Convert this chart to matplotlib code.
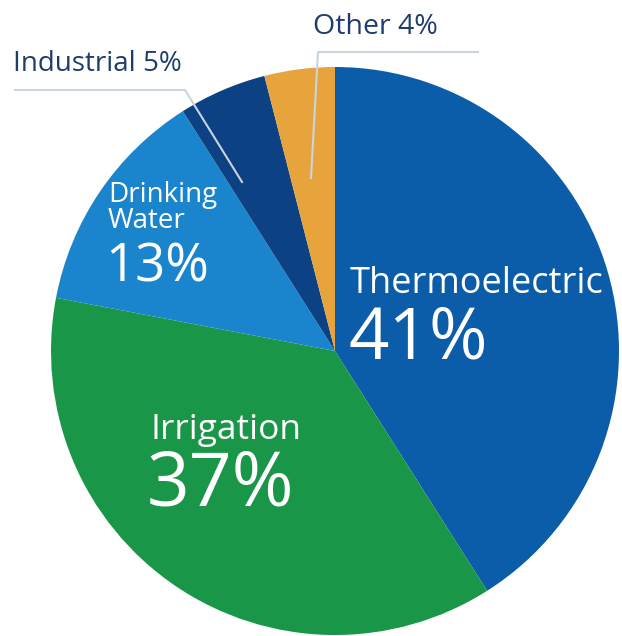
import matplotlib.pyplot as plt

# slices, clockwise from 12 o'clock
labels = ['Thermoelectric', 'Irrigation', 'Drinking\nWater', 'Industrial', 'Other']
shares = [41, 37, 13, 5, 4]
colors = ['#0b5ca9', '#1a9648', '#1a85cc', '#0c4183', '#e8a43c']

W, H = 622, 636

fig = plt.figure(figsize=(W / 100, H / 100), dpi=100)
ax = fig.add_axes([0, 0, 1, 1])

# pixel coords from top -> data coords
def py(y):
    return H - y

cx, cy, r = 335, 351, 284
ax.pie(shares, colors=colors, startangle=90, counterclock=False,
       center=(cx, py(cy)), radius=r, frame=True,
       wedgeprops=dict(linewidth=0))
ax.set_xlim(0, W)
ax.set_ylim(0, H)
ax.set_aspect('equal')
ax.axis('off')

font = 'Open Sans'
white = 'white'
# inside labels
ax.text(350, py(284), labels[0], color=white, fontsize=26, family=font, ha='left', va='center')
ax.text(348, py(340), f'{shares[0]}%', color=white, fontsize=51, family=font, ha='left', va='center')
ax.text(150, py(430), labels[1], color=white, fontsize=25.5, family=font, ha='left', va='center')
ax.text(147, py(486), f'{shares[1]}%', color=white, fontsize=54, family=font, ha='left', va='center')
ax.text(108, py(208), labels[2], color=white, fontsize=20, family=font, ha='left', va='center',
        linespacing=0.95)
ax.text(105, py(268), f'{shares[2]}%', color=white, fontsize=38, family=font, ha='left', va='center')

# outside labels with leader lines
navy = '#1f3d6c'
line_c = '#c9d4df'
ax.text(313, py(27), f'{labels[4]} {shares[4]}%', color=navy, fontsize=20.5, family=font,
        ha='left', va='center')
ax.plot([311, 318, 478], [py(178), py(52), py(52)], color=line_c, lw=1.5)
ax.text(13, py(64), f'{labels[3]} {shares[3]}%', color=navy, fontsize=20, family=font,
        ha='left', va='center')
ax.plot([242, 185, 15], [py(182), py(90), py(90)], color=line_c, lw=1.5)

fig.savefig('out.png', dpi=100, facecolor='white')
